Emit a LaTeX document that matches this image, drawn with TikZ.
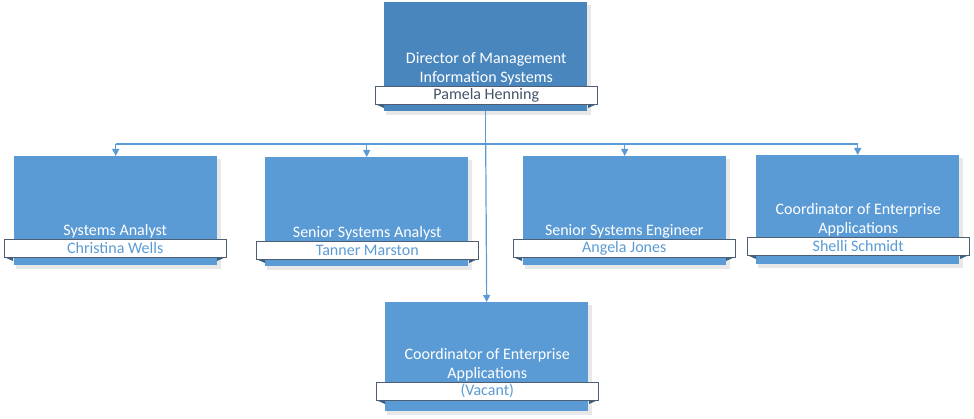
\documentclass[tikz,border=0pt]{standalone}
\usepackage{fontspec}
\setmainfont{Carlito}
\usetikzlibrary{arrows.meta,calc}
\definecolor{boxblue}{HTML}{5B9BD5}
\definecolor{topblue}{HTML}{4A86BE}
\definecolor{linkblue}{HTML}{5B9BD5}
\definecolor{bandline}{HTML}{4F5F73}
\definecolor{foldcol}{HTML}{3A5F82}
\definecolor{namecol}{HTML}{5B9BD5}
\definecolor{topname}{HTML}{44546A}
\tikzset{
  posbox/.style={draw=none, fill=boxblue, minimum width=203pt, minimum height=109pt, inner sep=0pt},
  topbox/.style={posbox, fill=topblue},
  titletext/.style={text=white, font=\fontsize{16pt}{19pt}\selectfont, align=center, inner sep=0pt},
  band/.style={draw=bandline, line width=0.5pt, fill=white, minimum width=222pt, minimum height=18pt, inner sep=0pt, font=\fontsize{16pt}{18pt}\selectfont, text=namecol},
  link/.style={draw=linkblue, line width=1.2pt},
  arr/.style={link, -{Triangle[length=7pt,width=7pt]}},
  shade/.style={fill=black!9}
}
\begin{document}
\begin{tikzpicture}[x=1pt,y=-1pt]
\useasboundingbox (0,0) rectangle (974,419);
% shadows
\foreach \l/\t in {384/2, 14/156, 265/157, 523/156, 756/155, 385/302}{
  \fill[shade] (\l+2,\t+3) rectangle ++(205,110);
}
% boxes
\node[topbox, anchor=north west] (top) at (384,2) {};
\node[posbox, anchor=north west] (c1) at (14,156) {};
\node[posbox, anchor=north west] (c2) at (265,157) {};
\node[posbox, anchor=north west] (c3) at (523,156) {};
\node[posbox, anchor=north west] (c4) at (756,155) {};
\node[posbox, anchor=north west] (c5) at (385,302) {};
% folds and bands
\foreach \l/\t in {375/86, 4/239, 256/241, 513/239, 747/237, 376/382}{
  \fill[foldcol] (\l,\t+18) -- (\l+9,\t+18) -- (\l+9,\t+22) -- cycle;
  \fill[foldcol] (\l+222,\t+18) -- (\l+213,\t+18) -- (\l+213,\t+22) -- cycle;
}
\node[band, anchor=north west, text=topname] (btop) at (375,86) {Pamela Henning};
\node[band, anchor=north west] (b1) at (4,239) {Christina Wells};
\node[band, anchor=north west] (b2) at (256,241) {Tanner Marston};
\node[band, anchor=north west] (b3) at (513,239) {Angela Jones};
\node[band, anchor=north west] (b4) at (747,237) {Shelli Schmidt};
\node[band, anchor=north west] (b5) at (376,382) {(Vacant)};
% titles
\node[titletext, anchor=south] (ttop) at ([yshift=1pt]btop.north) {Director of Management\\Information Systems};
\node[titletext, anchor=south] (t1) at ([yshift=1pt]b1.north) {Systems Analyst};
\node[titletext, anchor=south] (t2) at ([yshift=1pt]b2.north) {Senior Systems Analyst};
\node[titletext, anchor=south] (t3) at ([yshift=1pt]b3.north) {Senior Systems Engineer};
\node[titletext, anchor=south] (t4) at ([yshift=1pt]b4.north) {Coordinator of Enterprise\\Applications};
\node[titletext, anchor=south] (t5) at ([yshift=1pt]b5.north) {Coordinator of Enterprise\\Applications};
% connectors
\coordinate (bus) at (top.center |- 0,144);
\draw[link] (top.south) -- (bus);
\draw[link] (bus -| c1.north) -- (bus -| c4.north);
\draw[arr] (bus -| c1.north) -- (c1.north);
\draw[arr] (bus -| c2.north) -- (c2.north);
\draw[arr] (bus -| c3.north) -- (c3.north);
\draw[arr] (bus -| c4.north) -- (c4.north);
\draw[arr] (bus) -- (c5.north);
\end{tikzpicture}
\end{document}
